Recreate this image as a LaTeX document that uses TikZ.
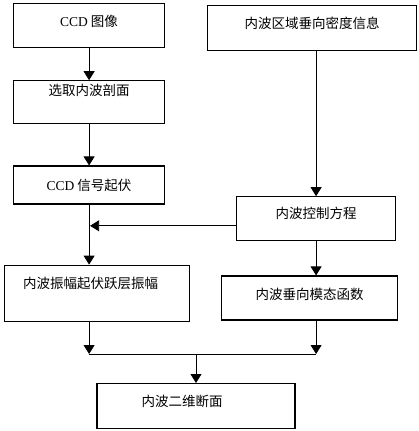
\documentclass[tikz,border=0pt]{standalone}
\usepackage{fontspec}
\setmainfont{Liberation Serif}
\newfontfamily\cjk{Noto Sans CJK SC}
\newfontfamily\latin{Liberation Serif}
\usetikzlibrary{positioning,arrows.meta,calc}

\begin{document}
\begin{tikzpicture}[x=1pt, y=1pt,
  box/.style n args={3}{draw, line width=1.2pt, inner sep=0pt, minimum width=#1,
    text height=#2, text depth=#3, font=\cjk\fontsize{13.5}{16}\selectfont},
  arr/.style={-{Triangle[length=9pt, width=11pt]}, line width=0.8pt},
  line/.style={line width=0.8pt}]
\useasboundingbox (0,0) rectangle (418,-431);
\node[box={151pt}{23pt}{21pt}, anchor=north west] (img) at (13,-3) {{\latin CCD} 图像};
\node[box={151pt}{15pt}{28pt}, below=32pt of img] (sect) {选取内波剖面};
\node[box={151pt}{24pt}{14pt}, below=41pt of sect] (sig) {{\latin CCD} 信号起伏};
\node[box={185pt}{23pt}{33pt}, below=60pt of sig, xshift=8pt] (amp) {内波振幅起伏跃层振幅\hspace*{13pt}};
\node[box={209pt}{23pt}{22pt}, anchor=north west] (dens) at (207,-5) {内波区域垂向密度信息};
\node[box={159pt}{22pt}{22pt}, below=145pt of dens, xshift=4pt] (eq) {内波控制方程};
\node[box={176pt}{23pt}{21pt}, below=34pt of eq, xshift=-6.5pt] (mode) {内波垂向模态函数};
\node[box={198pt}{23pt}{22pt}, anchor=north] (sec2d) at (196,-383) {内波二维断面\hspace*{28pt}};
\coordinate (join) at ($(sec2d.north)+(0,29)$);
\coordinate (eqout) at ($(eq.west)+(0,-7)$);
\draw[arr] (img) -- (sect);
\draw[arr] (sect) -- (sig);
\draw[arr] (sig) -- (sig |- amp.north);
\draw[arr] (dens.south -| eq) -- (eq);
\draw[arr, shorten >=1pt] (eqout) -- (eqout -| sig);
\draw[arr] (eq) -- (eq |- mode.north);
\draw[arr] (amp.south -| sig) -- (join -| sig);
\draw[arr] (mode.south -| eq) -- (join -| eq);
\draw[line] (join -| sig) -- (join -| eq);
\draw[arr] (join) -- (sec2d);
\end{tikzpicture}
\end{document}
